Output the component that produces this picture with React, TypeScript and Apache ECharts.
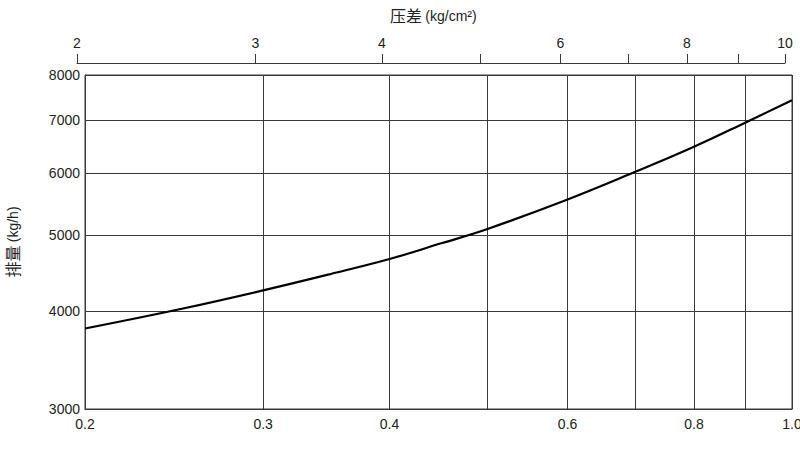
import React, { useEffect, useRef } from "react";
import * as echarts from "echarts";

// 压差 (bottom scale 0.2–1.0) and 排量 readings along the curve
const pressureDiff = [0.2, 0.25, 0.3, 0.35, 0.4, 0.45, 0.5, 0.6, 0.7, 0.8, 0.9, 1.0];
const discharge = [3800, 4030, 4250, 4460, 4660, 4880, 5090, 5550, 6020, 6480, 6960, 7430];

const bottomLabels = [0.2, 0.3, 0.4, 0.6, 0.8, 1.0];
const bottomGrid = [0.2, 0.3, 0.4, 0.5, 0.6, 0.7, 0.8, 0.9, 1.0];
const topLabels = [2, 3, 4, 6, 8, 10];
const topTicks = [2, 3, 4, 5, 6, 7, 8, 9, 10];
const yTicks = [3000, 4000, 5000, 6000, 7000, 8000];

const FONT = "'Liberation Sans', 'Noto Sans CJK SC', sans-serif";

export default function App() {
  const ref = useRef<HTMLDivElement>(null);
  useEffect(() => {
    document.body.style.margin = "0";
    const chart = echarts.init(ref.current!, null, { renderer: "svg" });
    const lineColor = "#3a3a3a";
    chart.setOption({
      animation: false,
      backgroundColor: "#ffffff",
      textStyle: { fontFamily: FONT },
      grid: [
        {
          left: 85,
          right: 8,
          top: 75,
          bottom: 41,
          show: true,
          borderColor: lineColor,
          borderWidth: 1,
          backgroundColor: "transparent",
          containLabel: false,
          outerBoundsMode: "none",
        },
        {
          left: 77,
          right: 15,
          top: 62,
          height: 1,
          show: false,
          containLabel: false,
          outerBoundsMode: "none",
        },
      ],
      xAxis: [
        {
          type: "log",
          gridIndex: 0,
          min: 0.2,
          max: 1,
          axisLine: { show: true, lineStyle: { color: lineColor, width: 1 } },
          axisTick: { show: false, customValues: bottomGrid },
          axisLabel: {
            customValues: bottomLabels,
            formatter: (v: number) => v.toFixed(1),
            color: "#222",
            fontSize: 14,
            margin: 8,
            fontFamily: FONT,
          },
          splitLine: { show: true, lineStyle: { color: lineColor, width: 1 } },
        },
        {
          type: "log",
          gridIndex: 1,
          position: "top",
          min: 2,
          max: 10,
          axisLine: { show: true, lineStyle: { color: lineColor, width: 1 } },
          axisTick: {
            show: true,
            customValues: topTicks,
            length: 9,
            inside: false,
            lineStyle: { color: lineColor, width: 1 },
          },
          axisLabel: {
            customValues: topLabels,
            formatter: (v: number) => String(Math.round(v)),
            color: "#222",
            fontSize: 14,
            margin: 12,
            fontFamily: FONT,
          },
          splitLine: { show: false },
        },
      ],
      yAxis: [
        {
          type: "log",
          gridIndex: 0,
          min: 3000,
          max: 8000,
          name: "{a|排量} {b|(kg/h)}",
          nameLocation: "middle",
          nameRotate: 90,
          nameGap: 64,
          nameTextStyle: {
            rich: {
              a: { fontSize: 16, color: "#222", fontFamily: FONT },
              b: { fontSize: 14, color: "#222", fontFamily: FONT },
            },
          },
          axisLine: { show: true, lineStyle: { color: lineColor, width: 1 } },
          axisTick: { show: false, customValues: yTicks },
          axisLabel: {
            customValues: yTicks,
            formatter: (v: number) => String(Math.round(v)),
            color: "#222",
            fontSize: 14,
            margin: 5,
            fontFamily: FONT,
          },
          splitLine: { show: true, lineStyle: { color: lineColor, width: 1 } },
        },
        {
          type: "value",
          gridIndex: 1,
          show: false,
          min: 0,
          max: 1,
          splitLine: { show: false },
        },
      ],
      graphic: [
        {
          type: "text",
          left: 390,
          top: 8,
          style: {
            text: "{a|压差} {b|(kg/cm²)}",
            rich: {
              a: { fontSize: 16, fill: "#222", fontFamily: FONT },
              b: { fontSize: 14, fill: "#222", fontFamily: FONT },
            },
          },
        },
      ],
      series: [
        {
          type: "line",
          xAxisIndex: 0,
          yAxisIndex: 0,
          data: pressureDiff.map((x, i) => [x, discharge[i]]),
          smooth: 0.4,
          symbol: "none",
          lineStyle: { color: "#000", width: 2.2 },
          clip: true,
        },
      ],
    });
    return () => chart.dispose();
  }, []);
  return <div ref={ref} style={{ width: 800, height: 450 }} />;
}
